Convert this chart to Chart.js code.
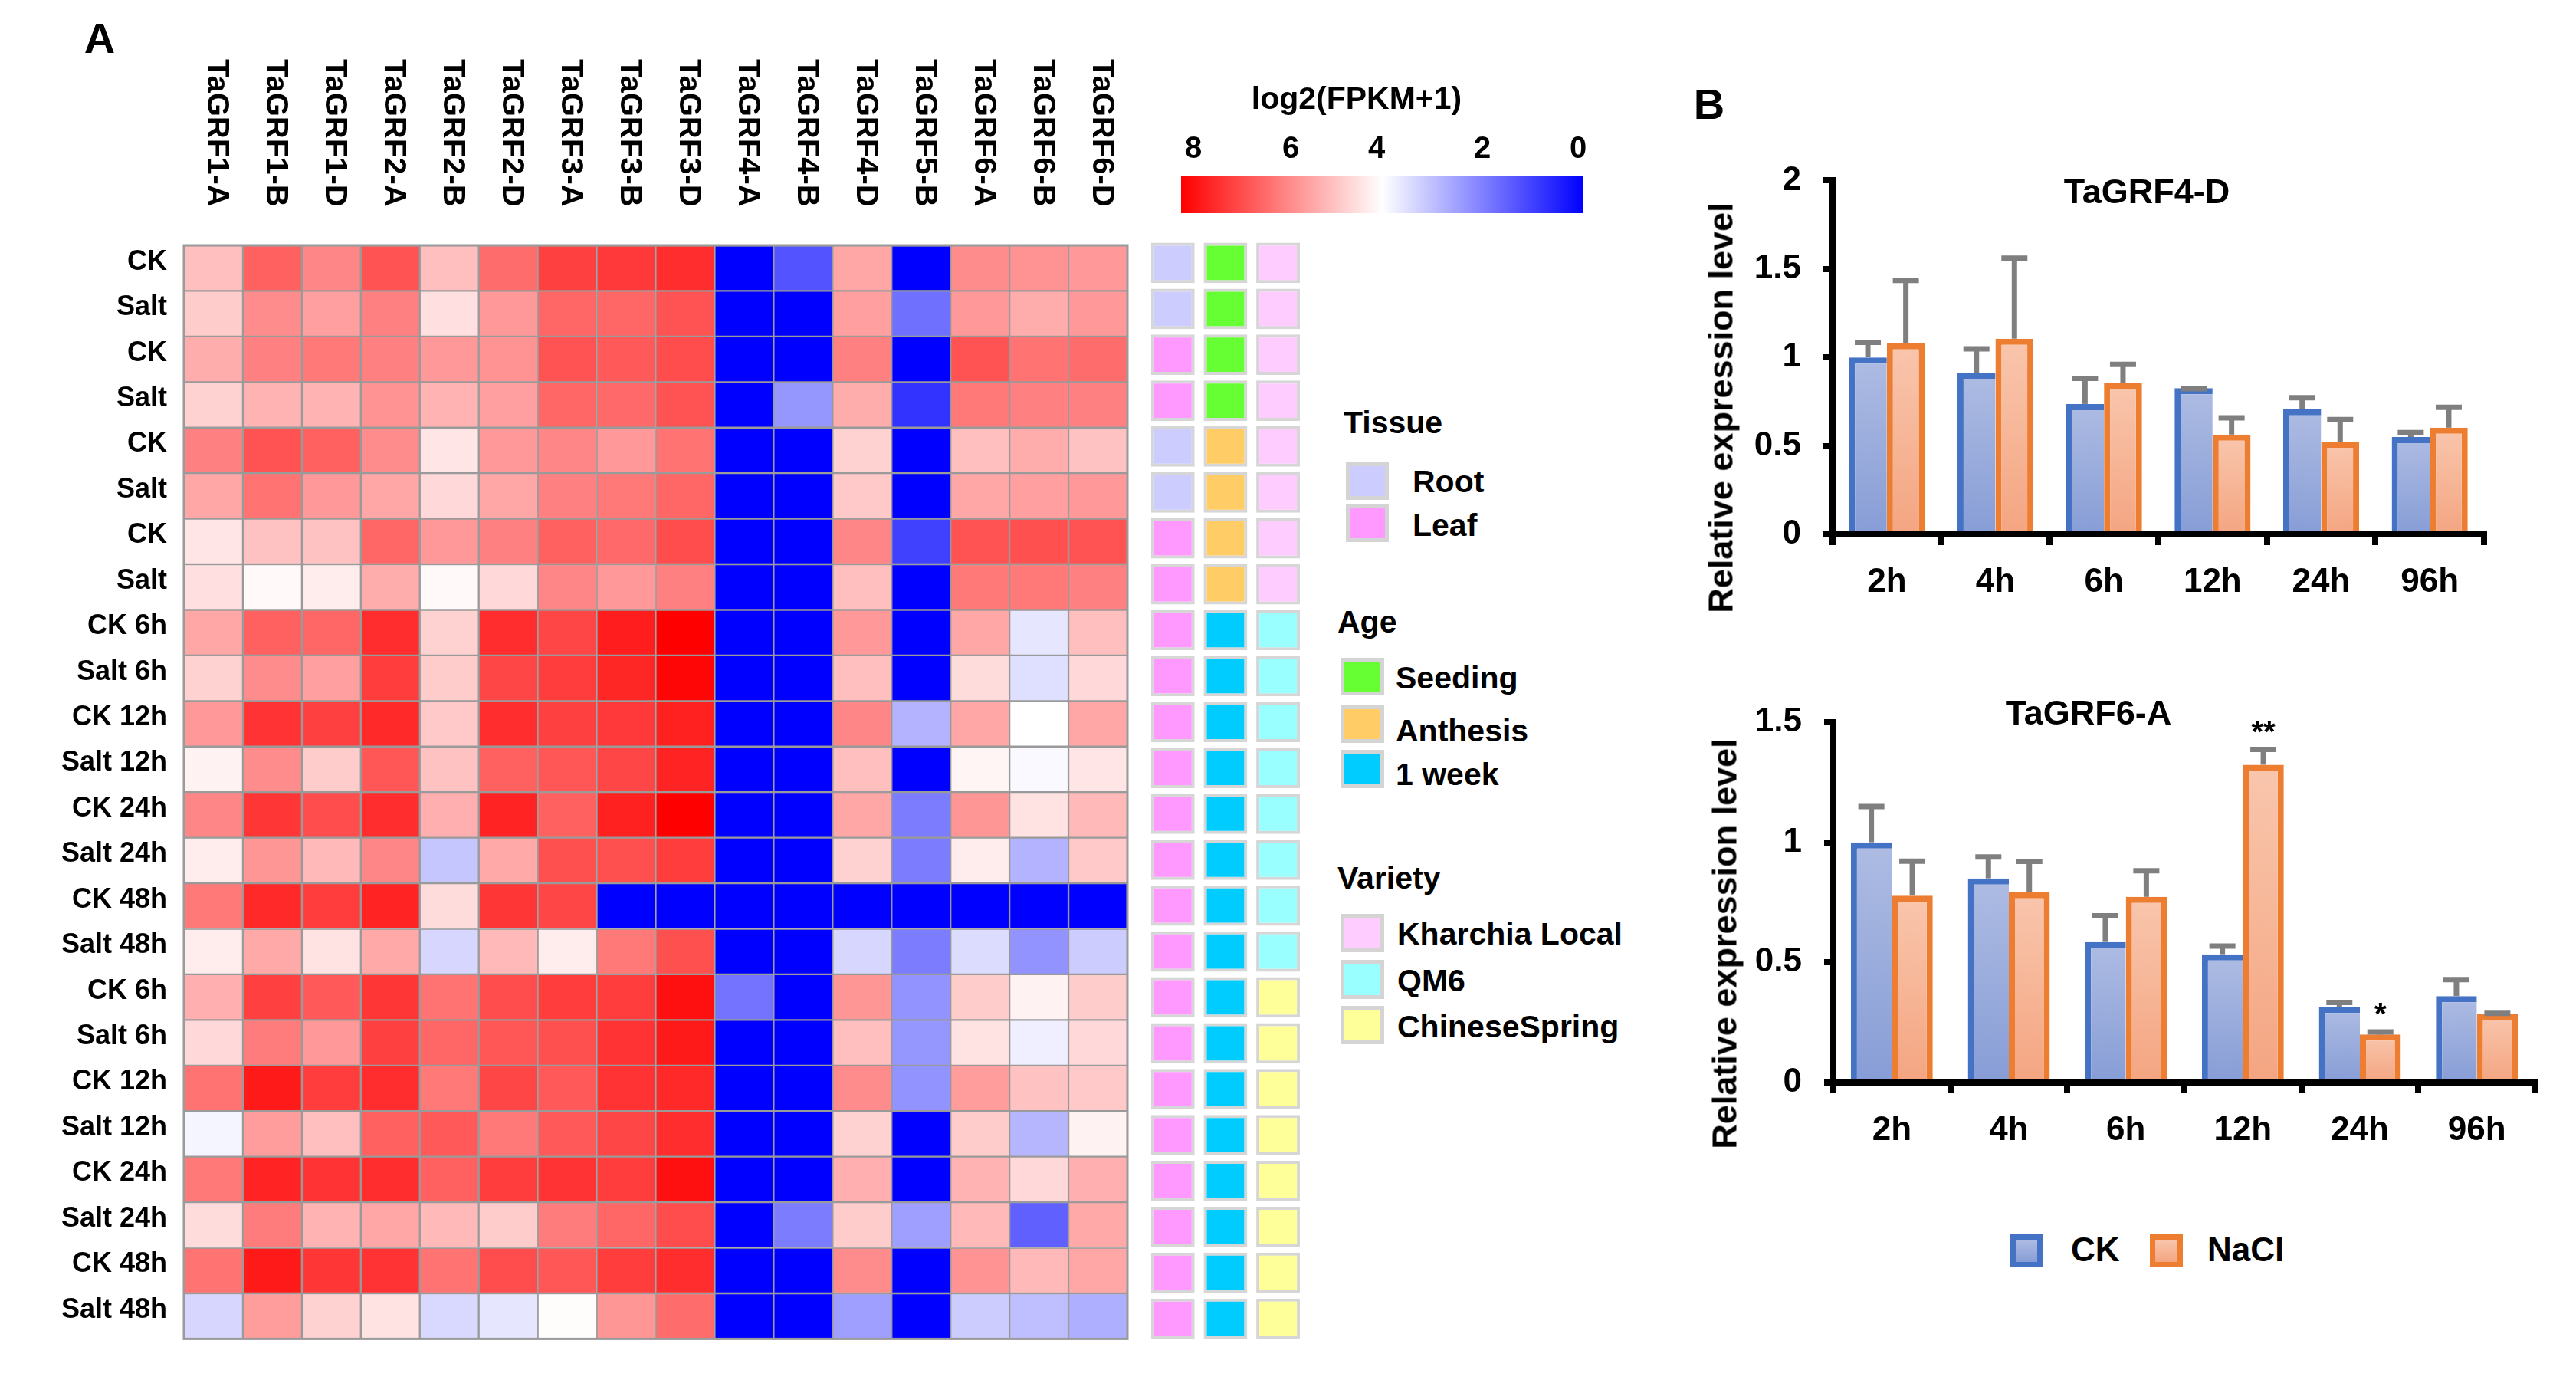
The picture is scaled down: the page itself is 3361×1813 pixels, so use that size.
<!DOCTYPE html>
<html>
<head>
<meta charset="utf-8">
<script src="https://cdn.jsdelivr.net/npm/chart.js@4.4.1/dist/chart.umd.min.js"></script>
<style>
html,body{margin:0;padding:0;background:#fff;}
#page{position:relative;width:3361px;height:1813px;overflow:hidden;font-family:"Liberation Sans",Arial,sans-serif;font-weight:bold;color:#000;}
canvas{position:absolute;}
.t{position:absolute;white-space:nowrap;}
.sw{position:absolute;box-sizing:border-box;}
</style>
</head>
<body>
<div id="page">
  <canvas id="heat" width="1490" height="1790" style="left:0;top:0"></canvas>
  <canvas id="anno" width="240" height="1790" style="left:1480px;top:0"></canvas>
  <canvas id="bar1" width="1181" height="640" style="left:2180px;top:180px"></canvas>
  <canvas id="bar2" width="1181" height="700" style="left:2180px;top:880px"></canvas>
</div>
<script>
// ---------------- DATA ----------------
const genes = ['TaGRF1-A','TaGRF1-B','TaGRF1-D','TaGRF2-A','TaGRF2-B','TaGRF2-D','TaGRF3-A','TaGRF3-B','TaGRF3-D','TaGRF4-A','TaGRF4-B','TaGRF4-D','TaGRF5-B','TaGRF6-A','TaGRF6-B','TaGRF6-D'];
const samples = ['CK','Salt','CK','Salt','CK','Salt','CK','Salt',
  'CK 6h','Salt 6h','CK 12h','Salt 12h','CK 24h','Salt 24h','CK 48h','Salt 48h',
  'CK 6h','Salt 6h','CK 12h','Salt 12h','CK 24h','Salt 24h','CK 48h','Salt 48h'];
// log2(FPKM+1), one row per sample, one value per gene
const expression = [
  [5.0,6.5,5.9,6.7,5.0,6.3,7.0,7.1,7.3,0,1.3,5.4,0,5.8,5.7,5.6],
  [4.8,5.8,5.5,6.0,4.5,5.6,6.4,6.4,6.7,0,0,5.5,1.75,5.6,5.3,5.6],
  [5.3,6.0,6.1,6.0,5.6,5.7,6.7,6.6,6.8,0,0,6.0,0,6.7,6.2,6.3],
  [4.7,5.2,5.2,5.7,5.2,5.5,6.4,6.35,6.7,0,2.35,5.3,0.8,6.1,6.0,6.0],
  [6.0,6.7,6.5,5.8,4.4,5.6,5.9,5.6,6.2,0,0,4.7,0,5.0,5.3,4.95],
  [5.4,6.2,5.6,5.4,4.6,5.4,6.0,6.1,6.4,0,0,4.85,0,5.4,5.5,5.6],
  [4.4,4.95,4.95,6.4,5.6,6.0,6.5,6.35,6.8,0,0,5.9,1.0,6.7,6.75,6.7],
  [4.5,4.1,4.3,5.3,4.1,4.6,5.9,5.6,6.0,0,0,5.0,0,6.1,6.1,6.0],
  [5.4,6.5,6.4,7.3,4.7,7.3,6.9,7.55,8.0,0,0,5.6,0,5.4,3.6,5.0],
  [4.7,5.8,5.5,7.05,4.8,6.9,7.05,7.4,7.9,0,0,5.0,0,4.55,3.5,4.6],
  [5.6,7.2,7.0,7.35,4.85,7.3,7.0,7.1,7.5,0,0,5.9,2.8,5.4,4.0,5.4],
  [4.2,5.8,4.8,6.65,4.95,6.5,6.65,6.9,7.45,0,0,5.0,0,4.15,3.9,4.4],
  [5.9,7.15,6.8,7.3,5.25,7.45,6.5,7.5,8.0,0,0,5.4,1.95,5.65,4.45,5.1],
  [4.3,5.65,5.1,5.9,3.1,5.35,6.75,6.75,7.05,0,0,4.7,1.95,4.3,2.8,4.85],
  [6.1,7.35,7.05,7.45,4.55,7.15,6.9,0,0,0,0,0,0,0,0,0],
  [4.3,5.35,4.45,5.35,3.35,5.1,4.3,6.1,6.75,0,0,3.35,1.95,3.45,2.3,3.2],
  [5.25,7.0,6.6,7.15,6.2,6.8,7.05,7.05,7.75,1.8,0,5.65,2.3,4.8,4.2,4.8],
  [4.6,6.05,5.6,7.0,6.4,6.65,6.75,7.2,7.6,0,0,5.0,2.35,4.45,3.75,4.6],
  [6.2,7.6,7.05,7.3,6.1,6.9,6.6,7.2,7.35,0,0,5.8,2.3,5.55,4.95,4.85],
  [3.85,5.55,5.0,6.5,6.6,6.1,6.6,6.9,7.3,0,0,4.7,0,4.8,2.85,4.2],
  [6.1,7.45,7.2,7.3,6.5,7.05,7.2,7.05,7.75,0,0,5.25,0,5.2,4.6,5.25],
  [4.55,6.05,5.2,5.4,5.1,4.8,6.05,6.4,6.8,0,1.95,4.8,2.5,5.1,1.5,5.35],
  [6.2,7.6,7.15,7.2,6.2,6.8,6.65,7.05,7.3,0,0,5.8,0,5.7,5.1,5.4],
  [3.35,5.55,4.7,4.45,3.4,3.6,4.05,5.65,6.3,0,0,2.5,0,3.2,3.0,2.75]
];
const colorbarTicks = [8,6,4,2,0];
const tissue = ['Root','Root','Leaf','Leaf','Root','Root','Leaf','Leaf','Leaf','Leaf','Leaf','Leaf','Leaf','Leaf','Leaf','Leaf','Leaf','Leaf','Leaf','Leaf','Leaf','Leaf','Leaf','Leaf'];
const age = ['Seeding','Seeding','Seeding','Seeding','Anthesis','Anthesis','Anthesis','Anthesis','1 week','1 week','1 week','1 week','1 week','1 week','1 week','1 week','1 week','1 week','1 week','1 week','1 week','1 week','1 week','1 week'];
const variety = ['Kharchia Local','Kharchia Local','Kharchia Local','Kharchia Local','Kharchia Local','Kharchia Local','Kharchia Local','Kharchia Local','QM6','QM6','QM6','QM6','QM6','QM6','QM6','QM6','ChineseSpring','ChineseSpring','ChineseSpring','ChineseSpring','ChineseSpring','ChineseSpring','ChineseSpring','ChineseSpring'];
const tissueLevels = ['Root','Leaf'];
const ageLevels = ['Seeding','Anthesis','1 week'];
const varietyLevels = ['Kharchia Local','QM6','ChineseSpring'];

const times = ['2h','4h','6h','12h','24h','96h'];
const grf4dCK = [1.0,0.914,0.737,0.826,0.707,0.55];
const grf4dCKsd = [0.10,0.15,0.16,0.012,0.08,0.04];
const grf4dNaCl = [1.08,1.106,0.856,0.564,0.524,0.603];
const grf4dNaClsd = [0.37,0.47,0.12,0.11,0.14,0.13];
const grf6aCK = [1.0,0.85,0.585,0.534,0.315,0.36];
const grf6aCKsd = [0.16,0.10,0.12,0.045,0.03,0.08];
const grf6aNaCl = [0.778,0.792,0.773,1.323,0.2,0.284];
const grf6aNaClsd = [0.155,0.14,0.12,0.075,0.022,0.015];
const grf6aNaClSig = ['','','','**','*',''];
const yTicks4d = [0,0.5,1,1.5,2];
const yTicks6a = [0,0.5,1,1.5];

// ---------------- STYLE ----------------
const FONT = '"Liberation Sans", Arial, sans-serif';
Chart.defaults.font.family = FONT;
Chart.defaults.color = '#000';
const tissueColors = {'Root':'#CCCCFF','Leaf':'#FF99FF'};
const ageColors = {'Seeding':'#66FF33','Anthesis':'#FFCC66','1 week':'#00CCFF'};
const varietyColors = {'Kharchia Local':'#FFCCFF','QM6':'#99FFFF','ChineseSpring':'#FFFF99'};

function valueColor(v){
  if (v >= 4){ const g = Math.round(255*(1-(v-4)/4)); return `rgb(255,${g},${g})`; }
  const c = Math.round(255*(v/4)); return `rgb(${c},${c},255)`;
}

const page = document.getElementById('page');
function text(str, x, y, size, align){
  const d = document.createElement('div');
  d.className = 't'; d.textContent = str;
  d.style.fontSize = size+'px'; d.style.lineHeight = size+'px';
  d.style.top = (y - size/2)+'px';
  if (align === 'center'){ d.style.left = x+'px'; d.style.transform = 'translateX(-50%)'; }
  else d.style.left = x+'px';
  page.appendChild(d); return d;
}
function vtext(str, cx, cy, size){
  const d = document.createElement('div');
  d.className = 't'; d.textContent = str;
  d.style.fontSize = size+'px'; d.style.lineHeight = size+'px';
  d.style.left = cx+'px'; d.style.top = cy+'px';
  d.style.transform = 'translate(-50%,-50%) rotate(-90deg)';
  page.appendChild(d);
}
function swatch(x1,y1,x2,y2,fill,border,bw){
  const d = document.createElement('div'); d.className='sw';
  d.style.left=x1+'px'; d.style.top=y1+'px'; d.style.width=(x2-x1)+'px'; d.style.height=(y2-y1)+'px';
  d.style.background=fill; d.style.border=bw+'px solid '+border;
  page.appendChild(d);
}

// ---------------- HEATMAP ----------------
const colLabels = {
  id:'colLabels',
  afterDraw(chart){
    const c = chart.ctx, xs = chart.scales.x;
    c.save(); c.font = 'bold 40px '+FONT; c.fillStyle = '#000';
    c.textAlign = 'left'; c.textBaseline = 'alphabetic';
    genes.forEach((g,j)=>{
      const x = xs.getPixelForValue(j+0.5) - 7;
      c.save(); c.translate(x, 77); c.rotate(Math.PI/2); c.fillText(g,0,0); c.restore();
    });
    c.restore();
  }
};
const frame = {
  id:'frame',
  afterDatasetsDraw(chart){
    const a = chart.chartArea, c = chart.ctx;
    c.save(); c.strokeStyle = '#9a9a9a'; c.lineWidth = 3;
    c.strokeRect(a.left, a.top, a.right-a.left, a.bottom-a.top); c.restore();
  }
};
new Chart(document.getElementById('heat'), {
  type:'bar',
  data:{
    labels: samples,
    datasets: genes.map((g,j)=>({
      label:g,
      data: samples.map(()=>[j, j+1]),
      backgroundColor: expression.map(r=>valueColor(r[j])),
      borderColor:'#9a9a9a', borderWidth:1.5, borderSkipped:false,
      barPercentage:1, categoryPercentage:1, grouped:false
    }))
  },
  options:{
    indexAxis:'y', responsive:false, animation:false, devicePixelRatio:1,
    layout:{padding:{top:320,bottom:33,left:0,right:19}},
    plugins:{legend:{display:false}, tooltip:{enabled:false}},
    scales:{
      x:{type:'linear', min:0, max:16, display:false},
      y:{type:'category', grid:{display:false, drawTicks:false}, border:{display:false},
         ticks:{color:'#000', font:{size:36, weight:'bold'}, padding:22, labelOffset:-8, autoSkip:false},
         afterFit:s=>{ s.width = 240; }}
    }
  },
  plugins:[colLabels, frame]
});

// ---------------- ANNOTATION TRACKS ----------------
const tracks = [
  tissue.map(v=>tissueColors[v]),
  age.map(v=>ageColors[v]),
  variety.map(v=>varietyColors[v])
];
new Chart(document.getElementById('anno'), {
  type:'bar',
  data:{
    labels: samples,
    datasets: tracks.map((cols,k)=>({
      label:['Tissue','Age','Variety'][k],
      data: samples.map(()=>[k+0.04, k+0.87]),
      backgroundColor: cols,
      borderColor:'#d6d6d6', borderWidth:4, borderSkipped:false,
      barPercentage:0.88, categoryPercentage:1, grouped:false
    }))
  },
  options:{
    indexAxis:'y', responsive:false, animation:false, devicePixelRatio:1,
    layout:{padding:{top:313,bottom:40,left:19,right:15}},
    plugins:{legend:{display:false}, tooltip:{enabled:false}},
    scales:{ x:{type:'linear', min:0, max:3, display:false}, y:{type:'category', display:false} }
  }
});

// ---------------- BAR CHARTS ----------------
const CK_TOP='#AEBCE3', CK_BOT='#879DD6', NA_TOP='#F9C6AD', NA_BOT='#F4A581';
function barGrad(top, bot){
  return (ctx)=>{
    const chart = ctx.chart;
    if (ctx.type !== 'data' || !chart.chartArea) return bot;
    const ys = chart.scales.y;
    const y0 = ys.getPixelForValue(ctx.raw), y1 = ys.getPixelForValue(0);
    if (!isFinite(y0) || !isFinite(y1) || y1 - y0 < 1) return bot;
    const g = chart.ctx.createLinearGradient(0, y0, 0, y1);
    g.addColorStop(0, top); g.addColorStop(1, bot); return g;
  };
}
const errorBars = {
  id:'errorBars',
  afterDatasetsDraw(chart){
    const c = chart.ctx, ys = chart.scales.y;
    c.save();
    chart.data.datasets.forEach((ds,i)=>{
      const meta = chart.getDatasetMeta(i);
      meta.data.forEach((el,k)=>{
        const yt = ys.getPixelForValue(ds.data[k] + ds.sd[k]);
        c.strokeStyle = '#7f7f7f'; c.lineWidth = 7; c.lineCap = 'butt';
        c.beginPath(); c.moveTo(el.x, el.y); c.lineTo(el.x, yt+3.5); c.stroke();
        c.beginPath(); c.moveTo(el.x-17, yt+3.5); c.lineTo(el.x+17, yt+3.5); c.stroke();
        if (ds.sig && ds.sig[k]){
          c.fillStyle = '#000'; c.font = 'bold 40px '+FONT;
          c.textAlign = 'center'; c.textBaseline = 'alphabetic';
          c.fillText(ds.sig[k], el.x, yt - 6);
        }
      });
    });
    c.restore();
  }
};
function barChart(id, ck, ckSd, na, naSd, naSig, yticks, pad, yW, xH){
  const ymax = yticks[yticks.length-1];
  return new Chart(document.getElementById(id), {
    type:'bar',
    data:{
      labels: times,
      datasets:[
        {label:'CK', data:ck, sd:ckSd, backgroundColor:barGrad(CK_TOP,CK_BOT),
         borderColor:'#4472C4', borderWidth:{top:8,left:8,right:0,bottom:0}, borderSkipped:'start'},
        {label:'NaCl', data:na, sd:naSd, sig:naSig, backgroundColor:barGrad(NA_TOP,NA_BOT),
         borderColor:'#ED7D31', borderWidth:{top:8,left:8,right:8,bottom:0}, borderSkipped:'start'}
      ]
    },
    options:{
      responsive:false, animation:false, devicePixelRatio:1,
      layout:{padding:pad},
      datasets:{bar:{categoryPercentage:0.7, barPercentage:1}},
      plugins:{legend:{display:false}, tooltip:{enabled:false}},
      scales:{
        x:{grid:{offset:true, drawOnChartArea:false, color:'#000', lineWidth:8, tickLength:14},
           border:{color:'#000', width:8},
           ticks:{color:'#000', font:{size:44, weight:'bold'}, padding:22},
           afterFit:s=>{ s.height = xH; }},
        y:{min:0, max:ymax,
           afterBuildTicks:s=>{ s.ticks = yticks.map(v=>({value:v})); },
           ticks:{color:'#000', font:{size:44, weight:'bold'}, padding:29, callback:v=>String(v)},
           grid:{drawOnChartArea:false, color:'#000', lineWidth:8, tickLength:12},
           border:{color:'#000', width:8},
           afterFit:s=>{ s.width = yW; }}
      }
    },
    plugins:[errorBars]
  });
}
barChart('bar1', grf4dCK, grf4dCKsd, grf4dNaCl, grf4dNaClsd, null, yTicks4d, {top:49,right:120,left:0,bottom:0}, 211, 123);
barChart('bar2', grf6aCK, grf6aCKsd, grf6aNaCl, grf6aNaClsd, grf6aNaClSig, yTicks6a, {top:62,right:53,left:0,bottom:0}, 212, 168);

// ---------------- TEXT / LEGENDS ----------------
text('A', 130, 50, 56, 'center');
text('B', 2230, 136, 56, 'center');
text('log2(FPKM+1)', 1770, 128, 41, 'center');
const cbX = [1557,1684,1796,1934,2059];
colorbarTicks.forEach((v,i)=>text(String(v), cbX[i], 192, 40, 'center'));
swatch(1541,229,2066,278,`linear-gradient(to right, ${valueColor(8)}, ${valueColor(4)}, ${valueColor(0)})`,'#fff',0);

text('Tissue', 1753, 551, 41);
const tissueY = [[603,652,628],[658,707,685]];
tissueLevels.forEach((l,i)=>{ swatch(1756,tissueY[i][0],1812,tissueY[i][1],tissueColors[l],'#d4d4d4',5); text(l,1843,tissueY[i][2],41); });
text('Age', 1745, 811, 41);
const ageY = [[858,907,884],[920,969,953],[978,1028,1010]];
ageLevels.forEach((l,i)=>{ swatch(1749,ageY[i][0],1806,ageY[i][1],ageColors[l],'#d4d4d4',5); text(l,1821,ageY[i][2],41); });
text('Variety', 1745, 1145, 41);
const varY = [[1192,1242,1218],[1252,1303,1279],[1312,1362,1339]];
varietyLevels.forEach((l,i)=>{ swatch(1749,varY[i][0],1806,varY[i][1],varietyColors[l],'#d4d4d4',5); text(l,1823,varY[i][2],41); });

text('TaGRF4-D', 2801, 249, 45, 'center');
text('TaGRF6-A', 2725, 929, 45, 'center');
vtext('Relative expression level', 2245, 532, 45);
vtext('Relative expression level', 2250, 1231, 45);
swatch(2623,1610,2665,1653,`linear-gradient(${CK_TOP},${CK_BOT})`,'#4472C4',7);
text('CK', 2702, 1630, 44);
swatch(2805,1610,2848,1653,`linear-gradient(${NA_TOP},${NA_BOT})`,'#ED7D31',7);
text('NaCl', 2880, 1630, 44);
</script>
</body>
</html>
